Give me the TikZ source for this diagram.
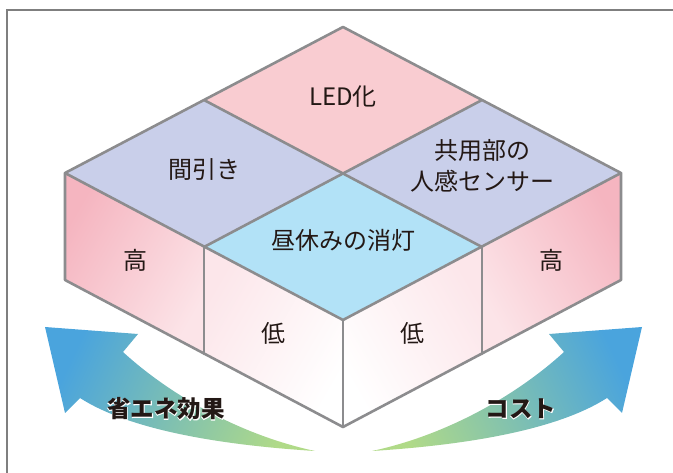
\documentclass[tikz,border=0pt]{standalone}
\usepackage{fontspec}
\setmainfont{Noto Sans CJK JP}
\newfontfamily\halofont[FakeBold=5]{Noto Sans CJK JP Bold}
\definecolor{ledpink}{HTML}{F9CCD1}
\definecolor{lav}{HTML}{C9CFEA}
\definecolor{skyb}{HTML}{B2E2F7}
\definecolor{outerpink}{HTML}{F5B5C0}
\definecolor{lightpink}{HTML}{FCE4E8}
\definecolor{innerpink}{HTML}{FCE6EA}
\definecolor{edgegray}{HTML}{8C8C8E}
\definecolor{framegray}{HTML}{7F7F7F}
\definecolor{arrblue}{HTML}{4AA4DD}
\definecolor{arrgreen}{HTML}{B0DA88}
\definecolor{ink}{HTML}{231815}
\tikzset{
  edge/.style={draw=edgegray, line width=2.6pt, line join=round, line cap=round},
  lab/.style={font=\fontsize{24}{31}\selectfont, text=ink, align=center, inner sep=0pt},
  arrlab/.style={font=\fontsize{23.5}{28}\selectfont\bfseries, inner sep=0pt},
  halo/.style={font=\fontsize{23.5}{28}\selectfont\halofont, text=white, inner sep=0pt},
}
\begin{document}
\begin{tikzpicture}[x=1pt,y=-1pt]
\useasboundingbox (0,0) rectangle (673,473);
% frame
\draw[framegray, line width=1.6pt] (7,473) -- (7,10) -- (673,10);
% key points
\coordinate (T) at (343,27);
\coordinate (L) at (65,173);
\coordinate (R) at (621,173);
\coordinate (C) at (343,173);
\coordinate (F) at (343,320);
\coordinate (Mtl) at (204,100);
\coordinate (Mtr) at (482,100);
\coordinate (Mbl) at (204,247);
\coordinate (Mbr) at (482,247);
\coordinate (Lb) at (65,280);
\coordinate (Mblb) at (204,354);
\coordinate (Fb) at (343,427);
\coordinate (Mbrb) at (482,354);
\coordinate (Rb) at (621,280);
% top faces
\fill[ledpink] (T) -- (Mtr) -- (C) -- (Mtl) -- cycle;
\fill[lav] (Mtl) -- (C) -- (Mbl) -- (L) -- cycle;
\fill[lav] (Mtr) -- (R) -- (Mbr) -- (C) -- cycle;
\fill[skyb] (C) -- (Mbr) -- (F) -- (Mbl) -- cycle;
% side faces
\shade[left color=outerpink, right color=lightpink, shading angle=60] (L) -- (Mbl) -- (Mblb) -- (Lb) -- cycle;
\shade[left color=innerpink, right color=white, shading angle=60] (Mbl) -- (F) -- (Fb) -- (Mblb) -- cycle;
\shade[left color=innerpink, right color=white, shading angle=-60] (F) -- (Mbr) -- (Mbrb) -- (Fb) -- cycle;
\shade[left color=outerpink, right color=lightpink, shading angle=-60] (Mbr) -- (R) -- (Rb) -- (Mbrb) -- cycle;
% edges
\draw[edge] (T) -- (R) -- (Rb) -- (Fb) -- (Lb) -- (L) -- cycle;
\draw[edge] (L) -- (F) -- (R);
\draw[edge] (F) -- (Fb);
\draw[edge] (Mbl) -- (Mblb);
\draw[edge] (Mbr) -- (Mbrb);
\draw[edge] (Mtl) -- (Mbr);
\draw[edge] (Mtr) -- (Mbl);
% arrows
\shade[top color=arrblue, bottom color=arrgreen, shading angle=65]
  (45,327) -- (138,334) -- (123,352)
  .. controls (170,395) and (240,435) .. (315,451)
  .. controls (220,445) and (130,430) .. (80,398)
  -- (65,413) -- cycle;
\shade[top color=arrblue, bottom color=arrgreen, shading angle=-65]
  (642,327) -- (549,334) -- (564,352)
  .. controls (517,395) and (447,435) .. (372,451)
  .. controls (467,445) and (557,430) .. (607,398)
  -- (622,413) -- cycle;
% labels
\node[lab] (led) at (343,97) {LED化};
\node[lab] (mabiki) at (204,170) {間引き};
\node[lab] (sensor) at (482,166) {共用部の\\人感センサー};
\node[lab] (hiru) at (343,240) {昼休みの消灯};
\node[lab] (takaL) at (135,260) {高};
\node[lab] (hikuL) at (273,333) {低};
\node[lab] (hikuR) at (412,333) {低};
\node[lab] (takaR) at (551,260) {高};
\node[halo] (shoeneHalo) at (166,409) {省エネ効果};
\node[halo] (costHalo) at (521,409) {コスト};
\node[arrlab, text=ink] (shoene) at (166,409) {省エネ効果};
\node[arrlab, text=ink] (cost) at (521,409) {コスト};
\end{tikzpicture}
\end{document}
